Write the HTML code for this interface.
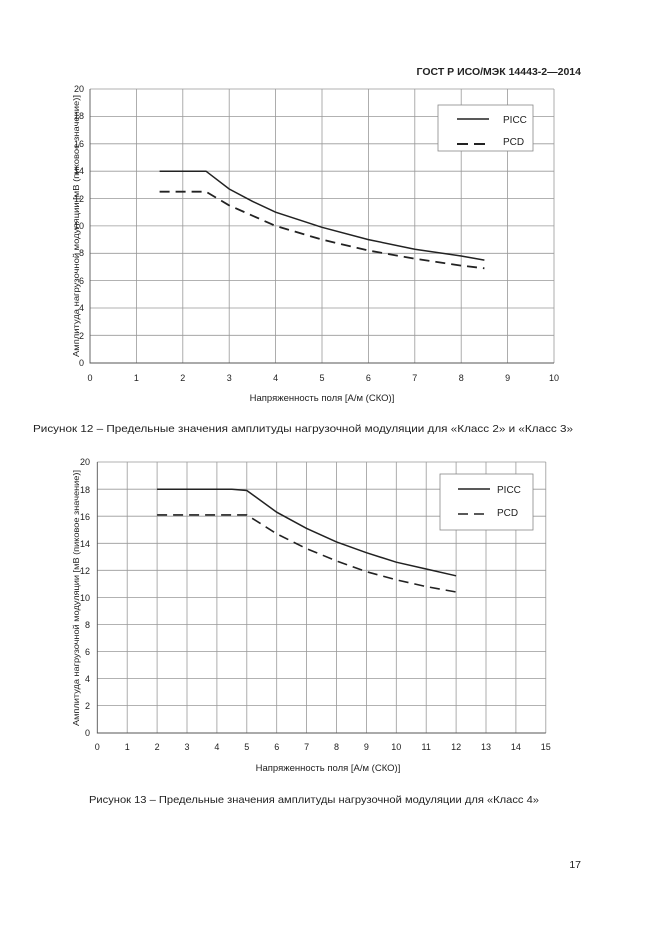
<!DOCTYPE html><html><head><meta charset="utf-8"><style>body{margin:0;background:#fff}svg{display:block}text{font-family:"Liberation Sans",sans-serif;fill:#222}</style></head><body>
<svg width="661" height="936" viewBox="0 0 661 936" xmlns="http://www.w3.org/2000/svg">
<text x="581" y="75" font-size="10.5" font-weight="bold" text-anchor="end">ГОСТ Р ИСО/МЭК 14443-2—2014</text>
<!-- chart 1 -->
<g stroke="#999" stroke-width="0.8" fill="none">
<path d="M136.4 89V363M182.8 89V363M229.2 89V363M275.6 89V363M322 89V363M368.4 89V363M414.8 89V363M461.2 89V363M507.6 89V363M554 89V363"/>
<path d="M90 89H554M90 116.4H554M90 143.8H554M90 171.2H554M90 198.5H554M90 225.9H554M90 253.3H554M90 280.6H554M90 308H554M90 335.3H554"/>
</g>
<path d="M90 89V363H554" stroke="#555" stroke-width="0.9" fill="none"/>
<g font-size="9" fill="#444" text-anchor="end">
<text x="84" y="366">0</text><text x="84" y="339">2</text><text x="84" y="311">4</text><text x="84" y="284">6</text><text x="84" y="256">8</text><text x="84" y="229">10</text><text x="84" y="202">12</text><text x="84" y="174">14</text><text x="84" y="147">16</text><text x="84" y="119">18</text><text x="84" y="92">20</text>
</g>
<g font-size="9" text-anchor="middle">
<text x="90" y="381">0</text><text x="136.4" y="381">1</text><text x="182.8" y="381">2</text><text x="229.2" y="381">3</text><text x="275.6" y="381">4</text><text x="322" y="381">5</text><text x="368.4" y="381">6</text><text x="414.8" y="381">7</text><text x="461.2" y="381">8</text><text x="507.6" y="381">9</text><text x="554" y="381">10</text>
</g>
<text x="322" y="401" font-size="9.5" text-anchor="middle">Напряженность поля [А/м (СКО)]</text>
<text transform="translate(79 226) rotate(-90)" font-size="8.5" text-anchor="middle" textLength="262" lengthAdjust="spacingAndGlyphs">Амплитуда нагрузочной модуляции [мВ (пиковое значение)]</text>
<polyline points="159.6,171.2 206,171.2 229.2,189 252.4,201.3 275.6,212.2 322,227.3 368.4,239.6 414.8,249.2 461.2,256 484.4,260.1" fill="none" stroke="#222" stroke-width="1.5"/>
<polyline points="159.6,191.7 206,191.7 229.2,205.4 275.6,225.9 322,239.6 368.4,250.5 414.8,258.7 461.2,265.6 484.4,268.3" fill="none" stroke="#222" stroke-width="1.8" stroke-dasharray="10,6"/>
<rect x="438" y="105" width="95" height="46" fill="#fff" stroke="#888" stroke-width="0.8"/>
<line x1="457" y1="119" x2="489" y2="119" stroke="#222" stroke-width="1.5"/>
<line x1="457" y1="144" x2="489" y2="144" stroke="#222" stroke-width="2" stroke-dasharray="11,6"/>
<text x="503" y="123" font-size="10">PICC</text><text x="503" y="145" font-size="10">PCD</text>
<text x="33" y="432" font-size="10.5" textLength="540" lengthAdjust="spacingAndGlyphs">Рисунок 12 – Предельные значения амплитуды нагрузочной модуляции для «Класс 2» и «Класс 3»</text>
<!-- chart 2 -->
<g stroke="#999" stroke-width="0.8" fill="none">
<path d="M127.2 462V733M157.1 462V733M187 462V733M216.9 462V733M246.8 462V733M276.7 462V733M306.6 462V733M336.5 462V733M366.4 462V733M396.3 462V733M426.2 462V733M456.1 462V733M486 462V733M515.9 462V733M545.8 462V733"/>
<path d="M97.3 462H545.8M97.3 489.2H545.8M97.3 516.2H545.8M97.3 543.3H545.8M97.3 570.3H545.8M97.3 597.4H545.8M97.3 624.5H545.8M97.3 651.5H545.8M97.3 678.6H545.8M97.3 705.6H545.8"/>
</g>
<path d="M97.3 462V733H545.8" stroke="#555" stroke-width="0.9" fill="none"/>
<g font-size="9" text-anchor="end">
<text x="90" y="736">0</text><text x="90" y="709">2</text><text x="90" y="682">4</text><text x="90" y="655">6</text><text x="90" y="628">8</text><text x="90" y="601">10</text><text x="90" y="574">12</text><text x="90" y="547">14</text><text x="90" y="520">16</text><text x="90" y="493">18</text><text x="90" y="465">20</text>
</g>
<g font-size="9" text-anchor="middle">
<text x="97.3" y="750">0</text><text x="127.2" y="750">1</text><text x="157.1" y="750">2</text><text x="187" y="750">3</text><text x="216.9" y="750">4</text><text x="246.8" y="750">5</text><text x="276.7" y="750">6</text><text x="306.6" y="750">7</text><text x="336.5" y="750">8</text><text x="366.4" y="750">9</text><text x="396.3" y="750">10</text><text x="426.2" y="750">11</text><text x="456.1" y="750">12</text><text x="486" y="750">13</text><text x="515.9" y="750">14</text><text x="545.8" y="750">15</text>
</g>
<text x="328" y="771" font-size="9.5" text-anchor="middle">Напряженность поля [А/м (СКО)]</text>
<text transform="translate(79 598) rotate(-90)" font-size="8.5" text-anchor="middle" textLength="256" lengthAdjust="spacingAndGlyphs">Амплитуда нагрузочной модуляции [мВ (пиковое значение)]</text>
<polyline points="157.1,489.2 231.9,489.2 246.8,490.5 276.7,512.2 306.6,528.4 336.5,541.9 366.4,552.7 396.3,562.2 426.2,569 456.1,575.8" fill="none" stroke="#222" stroke-width="1.5"/>
<polyline points="157.1,514.9 246.8,514.9 276.7,533.8 306.6,548.7 336.5,560.9 366.4,571.7 396.3,579.8 426.2,586.6 456.1,592" fill="none" stroke="#222" stroke-width="1.6" stroke-dasharray="10,6"/>
<rect x="440" y="474" width="93" height="56" fill="#fff" stroke="#888" stroke-width="0.8"/>
<line x1="458" y1="489" x2="490" y2="489" stroke="#222" stroke-width="1.5"/>
<line x1="458" y1="514" x2="490" y2="514" stroke="#222" stroke-width="1.6" stroke-dasharray="10,6"/>
<text x="497" y="493" font-size="10">PICC</text><text x="497" y="516" font-size="10">PCD</text>
<text x="89" y="803" font-size="10.5" textLength="450" lengthAdjust="spacingAndGlyphs">Рисунок 13 – Предельные значения амплитуды нагрузочной модуляции для «Класс 4»</text>
<text x="581" y="868" font-size="10.5" text-anchor="end">17</text>
</svg>
</body></html>
